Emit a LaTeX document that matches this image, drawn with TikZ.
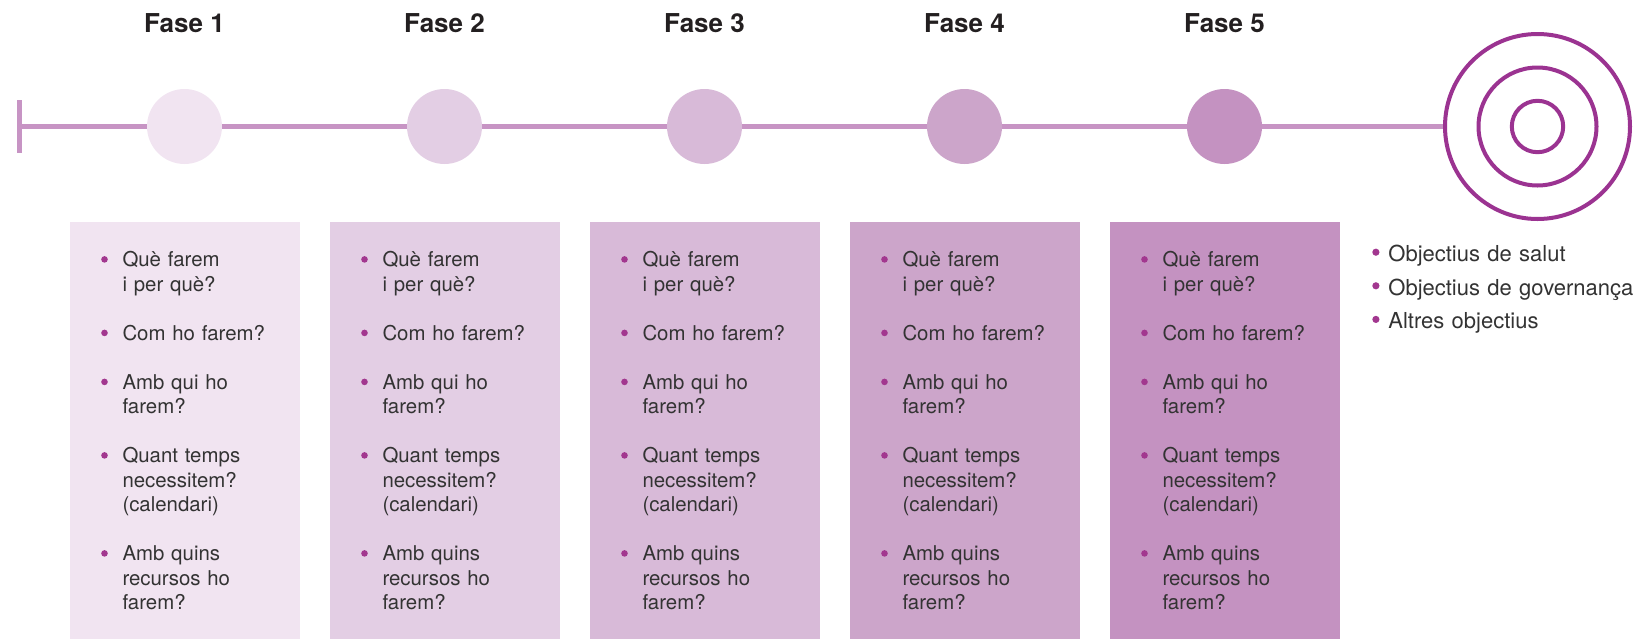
\documentclass[tikz,border=0pt]{standalone}
\usepackage{fontspec}
\usepackage{tikz}
\usetikzlibrary{positioning}
\setmainfont{TeX Gyre Heros}
\definecolor{fase1}{HTML}{F1E4F1}
\definecolor{fase2}{HTML}{E3CEE4}
\definecolor{fase3}{HTML}{D8BAD8}
\definecolor{fase4}{HTML}{CCA5CA}
\definecolor{fase5}{HTML}{C492C1}
\definecolor{linia}{HTML}{C794C4}
\definecolor{diana}{HTML}{9B3391}
\definecolor{punt}{HTML}{A2378F}
\definecolor{textgris}{HTML}{333333}
\definecolor{titol}{HTML}{231F20}
\newcommand{\punt}[2]{\tikz[baseline=-#1]\fill[punt] (0,0) circle (#2);}
\newcommand{\pitem}[1]{\leavevmode\llap{\punt{3.7pt}{1.65pt}\hspace{7.35pt}}#1\par}
\newcommand{\oitem}[1]{\leavevmode\llap{\punt{4.6pt}{1.8pt}\hspace{4.45pt}}#1\par}
\newcommand{\preguntes}{%
\setlength{\parskip}{12.25pt}%
\pitem{\rule{0pt}{9pt}Què farem\\i per què?}%
\pitem{Com ho farem?}%
\pitem{Amb qui ho\\farem?}%
\pitem{Quant temps\\necessitem?\\(calendari)}%
\pitem{Amb quins\\recursos ho\\farem?}}
\tikzset{
  fase/.style={circle,minimum size=37.5pt,inner sep=0pt},
  caixa/.style={rectangle,minimum width=115pt,minimum height=208.5pt,inner sep=0pt,anchor=north},
  llista/.style={anchor=north west,inner sep=0pt,text width=90pt,align=left,text=textgris,
    font=\fontsize{10.2pt}{12.25pt}\selectfont},
  titolfase/.style={anchor=base,text=titol,font=\fontsize{13pt}{15pt}\selectfont\bfseries},
}

\begin{document}
\begin{tikzpicture}[x=0.5pt,y=-0.5pt]
\useasboundingbox (0,0) rectangle (1635,638);
%\draw[step=10pt,lightgray,very thin] (0,0) grid (1635,638);
\coordinate (inici) at (19.5,126.5);
\draw[linia,line width=2.5pt] (19.5,100) -- (19.5,153);
% fases
\foreach \i in {1,...,5} {
  \node[fase,fill=fase\i] (f\i) at (184.5+260*\i-260,126.5) {};
  \node[titolfase] (n\i) at (184.5+260*\i-260,32.5) {Fase \i};
  \node[caixa,fill=fase\i,below=28.5pt of f\i] (c\i) {};
  \node[llista] (t\i) at ([shift={(53,27)}]c\i.north west) {\preguntes};
}
% diana
\node[circle,draw=diana,line width=2pt,minimum size=92.5pt,inner sep=0pt] (diana) at (1537.5,126.5) {};
\node[circle,draw=diana,line width=2pt,minimum size=59pt,inner sep=0pt] (diana2) at (diana) {};
\node[circle,draw=diana,line width=2pt,minimum size=25.7pt,inner sep=0pt] (diana3) at (diana) {};
\draw[linia,line width=2.75pt] (inici) -- (f1) -- (f2) -- (f3) -- (f4) -- (f5) -- (diana);
% objectius
\node[llista,text width=140pt,font=\fontsize{11pt}{16.8pt}\selectfont] (obj) at (1388,243) {%
\oitem{\rule{0pt}{9pt}Objectius de salut}%
\oitem{Objectius de governança}%
\oitem{Altres objectius}};
\end{tikzpicture}
\end{document}
